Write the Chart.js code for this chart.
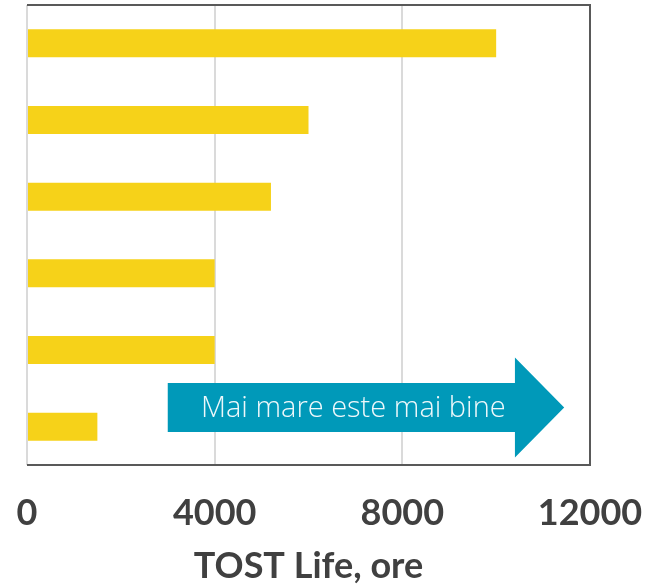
<!DOCTYPE html>
<html><head><meta charset="utf-8">
<script src="https://cdn.jsdelivr.net/npm/chart.js@4/dist/chart.umd.min.js"></script>
<style>html,body{margin:0;padding:0;background:#fff}#wrap{width:659px;height:588px}</style>
</head><body><div id="wrap"><canvas id="c" width="659" height="588"></canvas></div>
<script>
const categories = ['A','B','C','D','E','F'];
const tostLife = [10000, 6000, 5200, 4000, 4000, 1500];
const xTicks = [0, 4000, 8000, 12000];
const axisTitle = 'TOST Life, ore';
const arrowText = 'Mai mare este mai bine';
const arrowFrom = 3000, arrowBodyEnd = 10400, arrowTip = 11450, arrowCategory = 4.75;

const framePlugin = {
  id: 'frame',
  beforeDatasetsDraw(chart) {
    const {ctx, chartArea: a} = chart;
    ctx.save();
    ctx.lineWidth = 2;
    ctx.strokeStyle = '#dadada';
    ctx.beginPath(); ctx.moveTo(a.left, a.top); ctx.lineTo(a.left, a.bottom); ctx.stroke();
    ctx.strokeStyle = '#595959';
    ctx.beginPath(); ctx.moveTo(a.left, a.top); ctx.lineTo(a.right, a.top); ctx.lineTo(a.right, a.bottom); ctx.lineTo(a.left, a.bottom); ctx.stroke();
    ctx.restore();
  },
  afterDatasetsDraw(chart) {
    const {ctx} = chart;
    const xs = chart.scales.x, ys = chart.scales.y;
    const x0 = xs.getPixelForValue(arrowFrom), x1 = xs.getPixelForValue(arrowBodyEnd), x2 = xs.getPixelForValue(arrowTip);
    const cy = ys.getPixelForValue(arrowCategory);
    const bh = 24.5, hh = 50;
    ctx.save();
    ctx.fillStyle = '#0099b9';
    ctx.beginPath();
    ctx.moveTo(x0, cy - bh); ctx.lineTo(x1, cy - bh); ctx.lineTo(x1, cy - hh); ctx.lineTo(x2, cy);
    ctx.lineTo(x1, cy + hh); ctx.lineTo(x1, cy + bh); ctx.lineTo(x0, cy + bh); ctx.closePath();
    ctx.fill();
    ctx.fillStyle = '#eef8fb';
    ctx.font = '300 29px "Open Sans"';
    ctx.textAlign = 'center'; ctx.textBaseline = 'middle';
    ctx.fillText(arrowText, (x0 + x1) / 2 + 12, cy + 1);
    ctx.restore();
  }
};

new Chart(document.getElementById('c'), {
  type: 'bar',
  data: { labels: categories, datasets: [{ data: tostLife, backgroundColor: '#f6d219', barPercentage: 0.73, categoryPercentage: 0.5 }] },
  options: {
    indexAxis: 'y', responsive: false, animation: false,
    layout: { padding: { left: 27, right: 69, top: 5, bottom: 0 } },
    plugins: { legend: { display: false }, tooltip: { enabled: false } },
    scales: {
      y: { display: false },
      x: {
        min: 0, max: 12000,
        afterBuildTicks(s) { s.ticks = xTicks.map(v => ({ value: v })); },
        afterFit(s) { s.height = 123; s.paddingLeft = 0; s.paddingRight = 0; },
        grid: { color: '#dadada', lineWidth: 2, drawTicks: false },
        border: { display: false },
        ticks: { color: '#404040', font: { family: 'Lato', weight: 'bold', size: 36 }, padding: 27, maxRotation: 0, callback: v => String(v) },
        title: { display: true, text: axisTitle, color: '#404040', font: { family: 'Lato', weight: 'bold', size: 36 }, padding: { top: 6, bottom: 0 } }
      }
    }
  },
  plugins: [framePlugin]
});
</script></body></html>
